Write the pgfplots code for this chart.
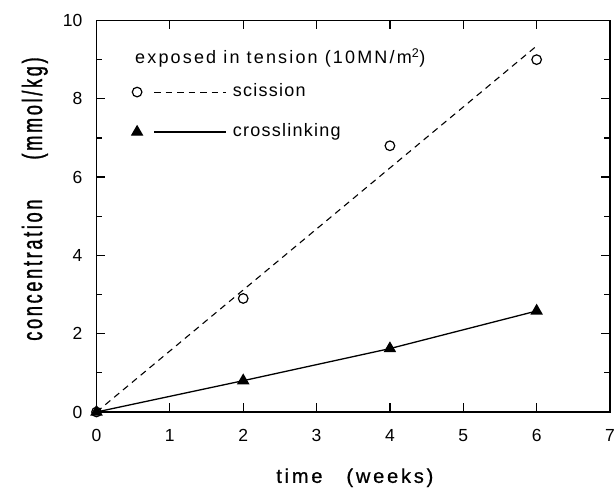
\documentclass[border=0pt]{standalone}
\usepackage{fontspec}
\setmainfont{Liberation Sans}
\usepackage{pgfplots}
\pgfplotsset{compat=1.18}
\begin{document}
\fontsize{18bp}{21bp}\selectfont
\begin{tikzpicture}
\begin{axis}[
  scale only axis,
  width=513.5bp, height=391.5bp,
  xmin=0, xmax=7, ymin=0, ymax=10,
  xtick={0,1,...,7},
  ytick={0,2,...,10},
  minor ytick={1,3,...,9},
  tick align=inside,
  major tick length=9bp,
  minor tick length=5.5bp,
  every tick/.style={black, line width=1.2bp},
  axis line style={line width=1.8bp},
  /pgf/number format/assume math mode=true,
  ticklabel style={font=\fontsize{17.5bp}{21bp}\selectfont},
  xticklabel style={yshift=-11bp},
  yticklabel style={xshift=-8bp},
  xlabel={\addfontfeature{LetterSpace=14,FakeBold=0.8}time\hspace{24bp}(weeks)},
  ylabel={\addfontfeature{FakeStretch=0.65,LetterSpace=9.5,FakeBold=1}concentration\hspace{40bp}(mmol/kg)},
  xlabel style={at={(axis description cs:0.503,-0.181)}, anchor=base, font=\fontsize{20bp}{24bp}\selectfont},
  ylabel style={at={(axis description cs:-0.106,0.544)}, anchor=base, font=\fontsize{28bp}{32bp}\selectfont},
  clip=false,
  legend cell align=left,
  legend style={at={(axis cs:0.48,8.42)}, anchor=north west, draw=none, fill=none,
    inner sep=0pt, row sep=21bp,
    font=\fontsize{18bp}{21bp}\selectfont\addfontfeature{LetterSpace=7},
    nodes={inner sep=1bp, text height=13bp, text depth=4bp}},
  legend image code/.code={
    \draw[#1] plot coordinates {(0bp,0bp)};
    \draw[#1, mark=none] (17bp,0bp) -- (89bp,0bp);
    \path (94bp,0bp);
  },
]
% scission data (markers) and dashed fit line
\addplot[only marks, mark=o, mark size=4.8bp, mark options={line width=1.2bp, solid}, forget plot]
  coordinates {(0,0) (2,2.9) (4,6.8) (6,9.0)};
\addplot[black, line width=1.1bp, dash pattern=on 6.5bp off 5bp, forget plot]
  coordinates {(0,0) (6,9.35)};
% crosslinking
\addplot[black, line width=1.3bp, mark=triangle*, mark size=6bp, mark options={solid}, forget plot]
  coordinates {(0,0) (2,0.8) (4,1.62) (6,2.58)};
\addlegendimage{black, line width=1.1bp, dash pattern=on 6.5bp off 5bp, mark=o, mark size=4.8bp, mark options={solid, line width=1.2bp}}
\addlegendentry{scission}
\addlegendimage{black, line width=1.3bp, mark=triangle*, mark size=6bp, mark options={solid}}
\addlegendentry{crosslinking}
\node[anchor=base west, inner sep=0pt, font=\fontsize{18bp}{21bp}\selectfont\addfontfeature{LetterSpace=12}]
  at (axis cs:0.525,8.9) {exposed in tension (10MN/m\textsuperscript{2})};
\end{axis}
\pgfresetboundingbox
\path[use as bounding box] (-96.5bp,-76bp) rectangle (518.5bp,412bp);
\end{tikzpicture}
\end{document}
